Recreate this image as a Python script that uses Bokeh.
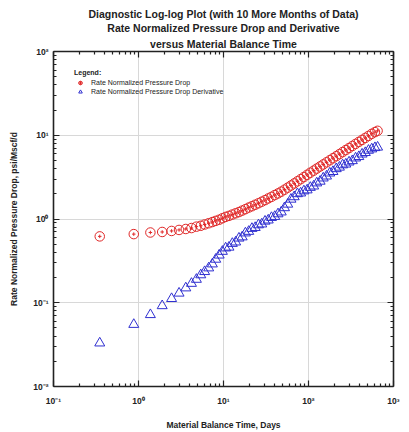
from bokeh.plotting import figure
from bokeh.models import LogAxis, FixedTicker, Legend, LegendItem, Range1d, Title
from bokeh.embed import file_html
from bokeh.resources import INLINE

TITLE_LINES = [
    "Diagnostic Log-log Plot (with 10 More Months of Data)",
    "Rate Normalized Pressure Drop and Derivative",
    "versus Material Balance Time",
]
X_LABEL = "Material Balance Time, Days"
Y_LABEL = "Rate Normalized Pressure Drop, psi/Mscf/d"
SERIES_NAMES = ["Rate Normalized Pressure Drop", "Rate Normalized Pressure Drop Derivative"]

material_balance_time = [
    0.35, 0.88, 1.38, 1.9, 2.45, 3.0, 3.6, 4.2, 4.8, 5.4, 6.0, 6.7, 7.4, 8.1, 8.9, 9.7,
    10.6, 11.6, 12.7, 13.9, 15.2, 16.6, 18.1, 19.8, 21.6, 23.6, 25.8, 28.2, 30.8, 33.6,
    36.7, 40.1, 43.8, 47.8, 52.2, 57.0, 62.2, 67.9, 74.1, 80.9, 88.3, 96.4, 105, 115,
    125, 137, 149, 163, 178, 194, 212, 231, 252, 275, 300, 328, 358, 391, 427, 466,
    508, 555, 605, 650,
]
rate_norm_pressure_drop = [
    0.62, 0.66, 0.69, 0.70, 0.72, 0.74, 0.76, 0.78, 0.81, 0.83, 0.86, 0.89, 0.92, 0.95, 0.98, 1.02,
    1.06, 1.09, 1.13, 1.17, 1.21, 1.26, 1.31, 1.37, 1.42, 1.48, 1.54, 1.61, 1.68, 1.76,
    1.84, 1.93, 2.02, 2.12, 2.24, 2.37, 2.51, 2.66, 2.82, 2.99, 3.17, 3.37, 3.57, 3.78,
    4.0, 4.24, 4.48, 4.75, 5.03, 5.32, 5.63, 5.95, 6.3, 6.66, 7.04, 7.45, 7.88, 8.33, 8.8, 9.3,
    9.82, 10.4, 10.9, 11.3,
]
rate_norm_pressure_drop_deriv = [
    0.033, 0.055, 0.072, 0.092, 0.112, 0.13, 0.15, 0.17, 0.19, 0.215, 0.235, 0.26, 0.29, 0.33, 0.37, 0.41,
    0.45, 0.46, 0.51, 0.53, 0.59, 0.61, 0.68, 0.71, 0.77, 0.79, 0.85, 0.87, 0.94, 0.97,
    1.04, 1.07, 1.15, 1.21, 1.36, 1.50, 1.72, 1.84, 2.0, 2.04, 2.16, 2.22, 2.38, 2.47,
    2.69, 2.82, 3.08, 3.25, 3.53, 3.68, 3.98, 4.15, 4.42, 4.52, 4.78, 4.96, 5.34, 5.55, 5.95, 6.2,
    6.6, 6.85, 7.1, 7.2,
]

X_TICKS = [0.1, 1, 10, 100, 1000]
X_TICK_LABELS = ["10\u207b\u00b9", "10\u2070", "10\u00b9", "10\u00b2", "10\u00b3"]
Y_TICKS = [0.01, 0.1, 1, 10, 100]
Y_TICK_LABELS = ["10\u207b\u00b2", "10\u207b\u00b9", "10\u2070", "10\u00b9", "10\u00b2"]
MINOR_MULT = [2, 3, 4, 5, 6, 7, 8, 9]

RED = "#e02828"
BLUE = "#2f2fd0"
INK = "#222222"
FONT = "Liberation Sans"

x_minor = [d * m for d in X_TICKS[:-1] for m in MINOR_MULT]
y_minor = [d * m for d in Y_TICKS[:-1] for m in MINOR_MULT]

p = figure(width=409, height=432, x_axis_type="log", y_axis_type="log",
           x_range=Range1d(0.1, 1000), y_range=Range1d(0.01, 100),
           output_backend="svg", toolbar_location=None, title=None,
           min_border_left=53, min_border_right=16, min_border_top=51, min_border_bottom=42)
p.outline_line_color = None
p.background_fill_color = "white"

bottom = p.below[0]
left = p.left[0]

xt = FixedTicker(ticks=X_TICKS, minor_ticks=x_minor)
yt = FixedTicker(ticks=Y_TICKS, minor_ticks=y_minor)

top = LogAxis(ticker=xt)
right = LogAxis(ticker=yt)
p.add_layout(top, "above")
p.add_layout(right, "right")

for i, line in enumerate(reversed(TITLE_LINES)):
    t = Title(text=line, align="center", text_font=FONT, text_font_size="10.5px",
              text_font_style="bold", text_color=INK, standoff=(4 if i == 0 else 0), offset=0)
    p.add_layout(t, "above")

bottom.ticker = xt
left.ticker = yt

for ax in [bottom, left, top, right]:
    ax.axis_line_width = 1.6
    ax.axis_line_color = INK
    ax.major_tick_in = 6
    ax.major_tick_out = 0
    ax.minor_tick_in = 3
    ax.minor_tick_out = 0
    ax.major_tick_line_color = INK
    ax.minor_tick_line_color = INK
    ax.major_tick_line_width = 1.2
    ax.minor_tick_line_width = 1.2
    ax.major_label_text_font = FONT
    ax.major_label_text_font_size = "8.5px"
    ax.major_label_text_font_style = "bold"
    ax.major_label_text_color = INK

for ax in [top, right]:
    ax.major_label_text_font_size = "1px"
    ax.major_label_text_alpha = 0
    ax.major_label_standoff = 0

bottom.major_label_overrides = dict(zip(X_TICKS, X_TICK_LABELS))
left.major_label_overrides = dict(zip(Y_TICKS, Y_TICK_LABELS))
bottom.major_label_standoff = 9
left.major_label_standoff = 5

bottom.axis_label = X_LABEL
left.axis_label = Y_LABEL
for ax in [bottom, left]:
    ax.axis_label_text_font = FONT
    ax.axis_label_text_font_size = "8.5px"
    ax.axis_label_text_font_style = "bold"
    ax.axis_label_text_color = INK
bottom.axis_label_standoff = 11
left.axis_label_standoff = 11

p.xgrid.grid_line_color = "#d8d8d8"
p.ygrid.grid_line_color = "#d8d8d8"
p.xgrid.ticker = xt
p.ygrid.ticker = yt

r_tri = p.scatter(material_balance_time, rate_norm_pressure_drop_deriv, marker="triangle", size=10,
                  fill_color=None, line_color=BLUE, line_width=1)
r_circ = p.scatter(material_balance_time, rate_norm_pressure_drop, marker="circle", size=9.5,
                   fill_color=None, line_color=RED, line_width=1)
r_cross = p.scatter(material_balance_time, rate_norm_pressure_drop, marker="cross", size=3.5,
                    line_color=RED, line_width=1)

legend = Legend(items=[LegendItem(label=SERIES_NAMES[0], renderers=[r_circ, r_cross]),
                       LegendItem(label=SERIES_NAMES[1], renderers=[r_tri])],
                location=(21, 290), title="Legend:")
legend.title_text_font = FONT
legend.title_text_font_size = "7px"
legend.title_text_font_style = "bold"
legend.title_text_color = INK
legend.title_standoff = 2
legend.label_text_font = FONT
legend.label_text_font_size = "7px"
legend.label_text_color = INK
legend.glyph_height = 9
legend.glyph_width = 12
legend.label_height = 9
legend.label_standoff = 5
legend.spacing = 0
legend.padding = 0
legend.margin = 0
legend.border_line_color = None
legend.background_fill_alpha = 0
p.add_layout(legend)

open("out.html", "w").write(file_html(p, INLINE))
